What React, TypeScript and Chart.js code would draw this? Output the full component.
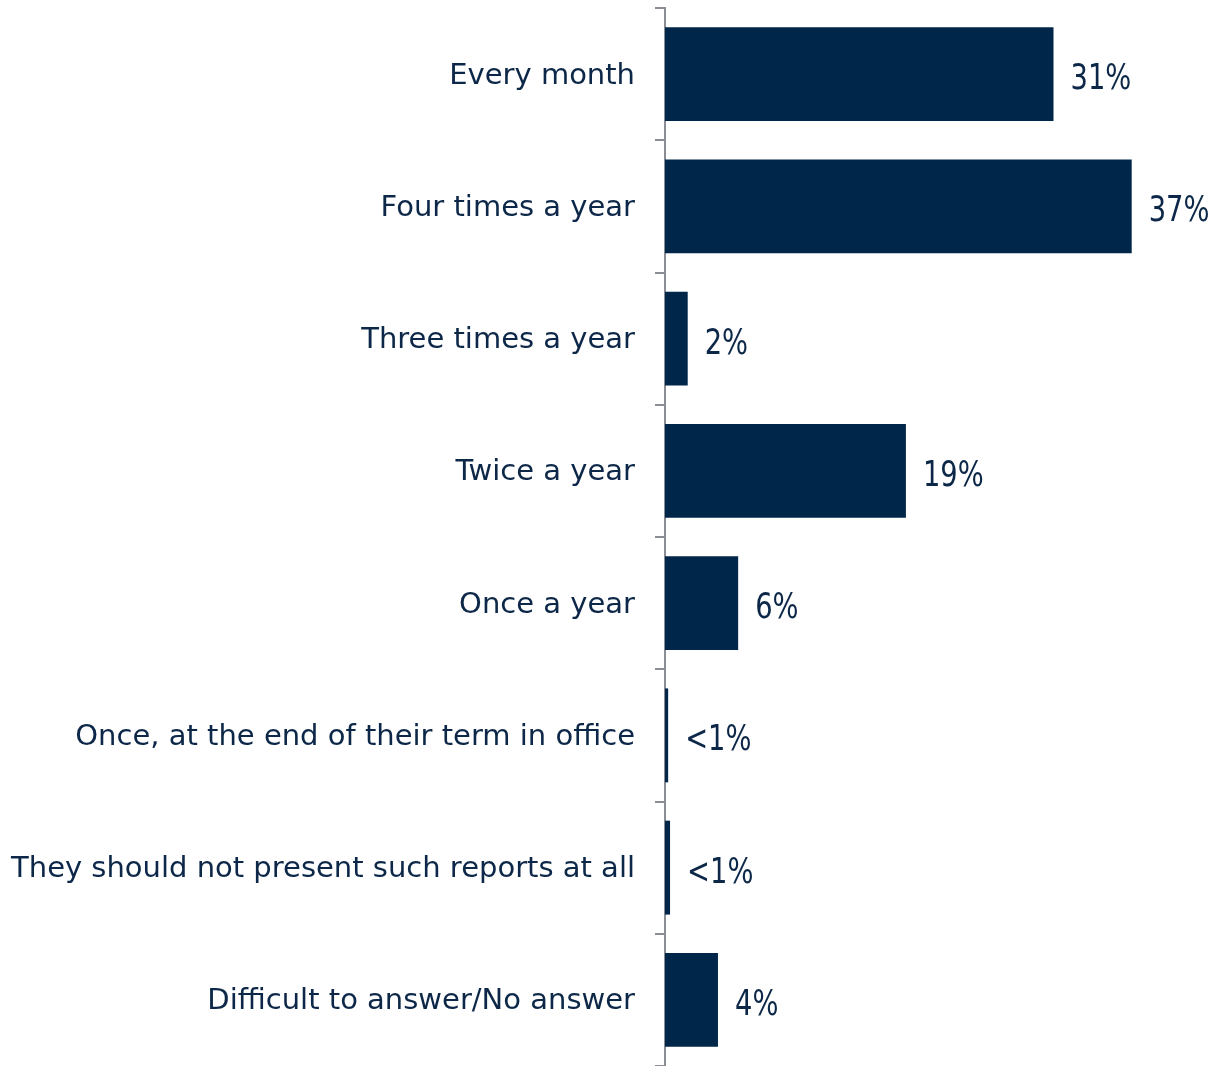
import React, { useEffect, useRef } from "react";
import { Chart, registerables } from "chart.js";

Chart.register(...registerables);

const categories = [
  "Every month",
  "Four times a year",
  "Three times a year",
  "Twice a year",
  "Once a year",
  "Once, at the end of their term in office",
  "They should not present such reports at all",
  "Difficult to answer/No answer",
];
const values = [30.8, 37, 1.8, 19.1, 5.8, 0.25, 0.4, 4.2];
const valueLabels = ["31%", "37%", "2%", "19%", "6%", "<1%", "<1%", "4%"];

const NAVY = "#00264a";
const TEXT = "#0c2747";
const FONT = "'DejaVu Sans', sans-serif";

export default function App() {
  const ref = useRef<HTMLCanvasElement | null>(null);
  useEffect(() => {
    if (!ref.current) return;
    const labelPlugin = {
      id: "valueLabels",
      afterDatasetsDraw(chart: any) {
        const ctx = chart.ctx;
        const meta = chart.getDatasetMeta(0);
        meta.data.forEach((bar: any, i: number) => {
          ctx.save();
          ctx.fillStyle = TEXT;
          ctx.font = `36px ${FONT}`;
          ctx.textAlign = "left";
          ctx.textBaseline = "alphabetic";
          ctx.translate(bar.x + 17, bar.y + 15);
          ctx.scale(0.76, 1);
          ctx.fillText(valueLabels[i], 0, 0);
          ctx.restore();
        });
      },
    };
    const chart = new Chart(ref.current, {
      type: "bar",
      data: {
        labels: categories,
        datasets: [
          {
            data: values,
            backgroundColor: NAVY,
            borderWidth: 0,
            categoryPercentage: 1,
            barPercentage: 0.71,
          },
        ],
      },
      options: {
        indexAxis: "y",
        animation: false,
        responsive: false,
        maintainAspectRatio: false,
        layout: { padding: { top: 8, left: 0, right: 0, bottom: 0 } },
        plugins: { legend: { display: false }, tooltip: { enabled: false } },
        scales: {
          x: { display: false, min: 0, max: 44 },
          y: {
            afterFit(scale: any) {
              scale.width = 665;
              scale.paddingTop = 0;
              scale.paddingBottom = 0;
            },
            grid: {
              drawOnChartArea: false,
              drawTicks: true,
              tickLength: 10,
              color: "#8a8d94",
              lineWidth: 2,
              offset: true,
            },
            border: { display: true, color: "#8a8d94", width: 2 },
            ticks: {
              color: TEXT,
              padding: 20,
              labelOffset: 2,
              font: { family: FONT, size: 29 },
            },
          },
        },
      },
      plugins: [labelPlugin],
    });
    return () => chart.destroy();
  }, []);
  return (
    <div style={{ position: "absolute", left: 0, top: 0, width: 1220, height: 1066 }}>
      <canvas ref={ref} width={1220} height={1066} style={{ width: 1220, height: 1066 }} />
    </div>
  );
}
